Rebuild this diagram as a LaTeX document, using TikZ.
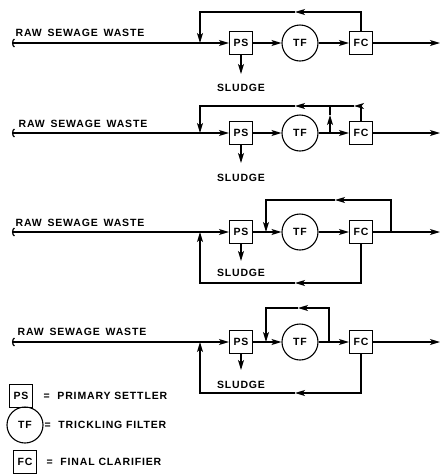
\documentclass[tikz,border=0pt]{standalone}
\usepackage{fontspec}
\setmainfont{Liberation Sans}[LetterSpace=8]
\usetikzlibrary{arrows.meta}

\begin{document}
\begin{tikzpicture}[
    x=1pt, y=-1pt,
    line width=1.2pt,
    font=\fontsize{10.5}{12}\selectfont\bfseries,
    unit/.style={draw, line width=1.1pt, minimum size=23pt, inner sep=0pt, font=\fontsize{10.5}{12}\selectfont\bfseries},
    filter/.style={unit, circle, minimum size=36pt},
    lbl/.style={inner sep=0pt},
    arrow/.style={-{Stealth[length=10pt, width=6pt, inset=2.5pt]}},
    feed/.style={{Arc Barb[length=2.5pt, width=9pt]}-{Stealth[length=10pt, width=6pt, inset=2.5pt]}}
]
\useasboundingbox (0,0) rectangle (443,475);

% ---- scheme 1: recycle of final effluent ahead of the settler
\coordinate (in1)  at (12,43);
\coordinate (j1)   at (200,43);
\node[unit]   (ps1) at (241,43) {PS};
\node[filter] (tf1) at (300,43) {TF};
\node[unit]   (fc1) at (361,43) {FC};
\coordinate (out1) at (440,43);
\coordinate (r1)   at (295,12);
\coordinate (s1)   at (241,74);
\node[lbl, anchor=west] (raw1) at (15,32.5) {RAW\hspace{2pt} SEWAGE\hspace{2pt} WASTE};
\node[lbl] (sl1) at (241,88) {SLUDGE};

\draw[feed]  (in1) -- (ps1.west);
\draw[arrow] (ps1) -- (tf1);
\draw[arrow] (tf1) -- (fc1);
\draw[arrow] (fc1) -- (out1);
\draw[arrow] (ps1) -- (s1);
\draw[arrow] (fc1.north) |- (r1);
\draw[arrow] (r1) -| (j1);

% ---- scheme 2: filter effluent and final effluent recycled
\coordinate (in2)  at (12,133);
\coordinate (j2)   at (200,133);
\node[unit]   (ps2) at (241,133) {PS};
\node[filter] (tf2) at (300,133) {TF};
\node[unit]   (fc2) at (361,133) {FC};
\coordinate (out2) at (440,133);
\coordinate (b2)   at (330,133);
\coordinate (u2)   at (330,115);
\coordinate (k2)   at (330,106);
\coordinate (r2a)  at (354,106);
\coordinate (r2b)  at (295,106);
\coordinate (s2)   at (241,163);
\node[lbl, anchor=west] (raw2) at (18,124) {RAW\hspace{2pt} SEWAGE\hspace{2pt} WASTE};
\node[lbl] (sl2) at (241,178) {SLUDGE};

\draw[feed]  (in2) -- (ps2.west);
\draw[arrow] (ps2) -- (tf2);
\draw[arrow] (tf2) -- (fc2);
\draw[arrow] (fc2) -- (out2);
\draw[arrow] (ps2) -- (s2);
\draw[arrow] (fc2.north) |- (r2a);
\draw[arrow] (r2a) -- (r2b);
\draw[arrow] (r2b) -| (j2);
\draw[arrow] (b2) -- (u2);
\draw        (u2) -- (k2);

% ---- scheme 3: final effluent to filter, clarifier underflow to settler
\coordinate (in3)  at (12,232);
\coordinate (j3)   at (200,232);
\node[unit]   (ps3) at (241,232) {PS};
\coordinate (m3)   at (266,232);
\node[filter] (tf3) at (300,232) {TF};
\node[unit]   (fc3) at (361,232) {FC};
\coordinate (o3)   at (391,232);
\coordinate (out3) at (440,232);
\coordinate (r3)   at (335,200);
\coordinate (q3)   at (295,283);
\coordinate (s3)   at (241,261);
\node[lbl, anchor=west] (raw3) at (15,223) {RAW\hspace{2pt} SEWAGE\hspace{2pt} WASTE};
\node[lbl] (sl3) at (241,273) {SLUDGE};

\draw[feed]  (in3) -- (ps3.west);
\draw[arrow] (ps3) -- (tf3);
\draw[arrow] (tf3) -- (fc3);
\draw[arrow] (fc3) -- (out3);
\draw[arrow] (ps3) -- (s3);
\draw[arrow] (o3) |- (r3);
\draw[arrow] (r3) -| (m3);
\draw[arrow] (fc3.south) |- (q3);
\draw[arrow] (q3) -| (j3);

% ---- scheme 4: filter recirculation, clarifier underflow to settler
\coordinate (in4)  at (12,342);
\coordinate (j4)   at (200,342);
\node[unit]   (ps4) at (241,342) {PS};
\coordinate (m4)   at (266,342);
\node[filter] (tf4) at (300,342) {TF};
\coordinate (b4)   at (329,342);
\node[unit]   (fc4) at (361,342) {FC};
\coordinate (out4) at (440,342);
\coordinate (r4)   at (298,308);
\coordinate (q4)   at (295,393);
\coordinate (s4)   at (241,370);
\node[lbl, anchor=west] (raw4) at (17,332) {RAW\hspace{2pt} SEWAGE\hspace{2pt} WASTE};
\node[lbl] (sl4) at (241,385) {SLUDGE};

\draw[feed]  (in4) -- (ps4.west);
\draw[arrow] (ps4) -- (tf4);
\draw[arrow] (tf4) -- (fc4);
\draw[arrow] (fc4) -- (out4);
\draw[arrow] (ps4) -- (s4);
\draw[arrow] (b4) |- (r4);
\draw[arrow] (r4) -| (m4);
\draw[arrow] (fc4.south) |- (q4);
\draw[arrow] (q4) -| (j4);

% ---- legend
\node[unit]   (lps) at (21,396) {PS};
\node[lbl, anchor=west] (tps) at (43,396) {=\hspace{4pt} PRIMARY SETTLER};
\node[filter] (ltf) at (25,425) {TF};
\node[lbl, anchor=west] (ttf) at (44,425) {=\hspace{4pt} TRICKLING FILTER};
\node[unit]   (lfc) at (25,462) {FC};
\node[lbl, anchor=west] (tfc) at (46,462) {=\hspace{4pt} FINAL CLARIFIER};
\end{tikzpicture}
\end{document}
